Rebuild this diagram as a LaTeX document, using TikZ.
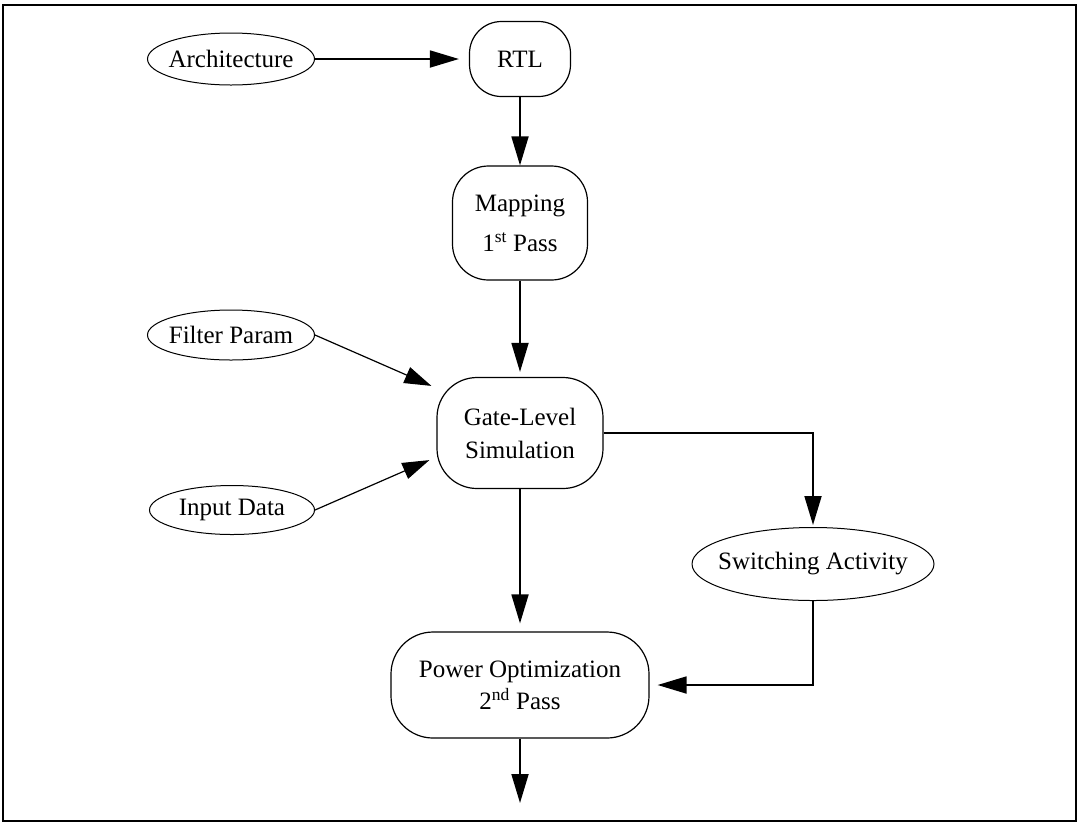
\documentclass[tikz,border=0pt]{standalone}
\usepackage{fontspec}
\setmainfont{Liberation Serif}
\usetikzlibrary{arrows.meta,shapes.geometric}
\begin{document}
\begin{tikzpicture}[x=1pt,y=-1pt,
  every node/.style={font=\fontsize{25}{30}\selectfont},
  % ellipse whose size is given, with the label centred inside it
  oval/.style n args={2}{draw, ellipse, line width=1pt, inner sep=0pt,
    minimum width=#1, minimum height=#2,
    execute at begin node={\hbox to 0pt\bgroup\hss},
    execute at end node={\hss\egroup}},
  roundbox/.style n args={3}{draw, rectangle, rounded corners=#3, line width=1.2pt,
    align=center, inner sep=0pt, minimum width=#1, minimum height=#2},
  flow/.style={line width=1.8pt, -{Triangle[length=29pt,width=17pt]}},
  feed/.style={line width=1.2pt, -{Triangle[length=27pt,width=17pt]}}]
\useasboundingbox (0,0) rectangle (1078,823);
\draw[line width=2pt] (3,5) rectangle (1076,821);

% inputs
\node[oval={167pt}{52pt}] (arch) at (231,59) {Architecture};
\node[oval={167pt}{50pt}] (filt) at (231,335) {Filter Param};
\node[oval={165pt}{49pt}] (inp) at (232,510) {Input Data};
\node[oval={242pt}{73pt}] (sw) at (813,564) {Switching Activity};

% design flow steps
\node[roundbox={101pt}{75pt}{32pt}] (rtl) at (520,59) {RTL};
\node[roundbox={135pt}{114pt}{36pt}] (map) at (520,223) {Mapping\\[10pt]1\textsuperscript{st} Pass};
\node[roundbox={166pt}{111pt}{40pt}] (gate) at (520,433) {Gate-Level\\[3pt]Simulation};
\node[roundbox={258pt}{106pt}{42pt}] (pow) at (520,685) {Power Optimization\\[2pt]2\textsuperscript{nd} Pass};
\coordinate (out) at (520,803);

% connectors
\draw[flow, shorten >=10pt] (arch) -- (rtl);
\draw[flow] (rtl) -- (map);
\draw[flow, shorten >=5pt] (map) -- (gate);
\draw[feed] (filt.east) -- ([shift={(-5,9)}]gate.north west);
\draw[feed] (inp.east) -- ([shift={(-7,-29)}]gate.south west);
\draw[flow, shorten >=2pt] (gate.east) -| (sw.north);
\draw[flow, shorten >=8pt] (gate) -- (pow);
\draw[flow, shorten >=8pt] (sw.south) |- (pow.east);
\draw[flow] (pow.south) -- (out);
\end{tikzpicture}
\end{document}
